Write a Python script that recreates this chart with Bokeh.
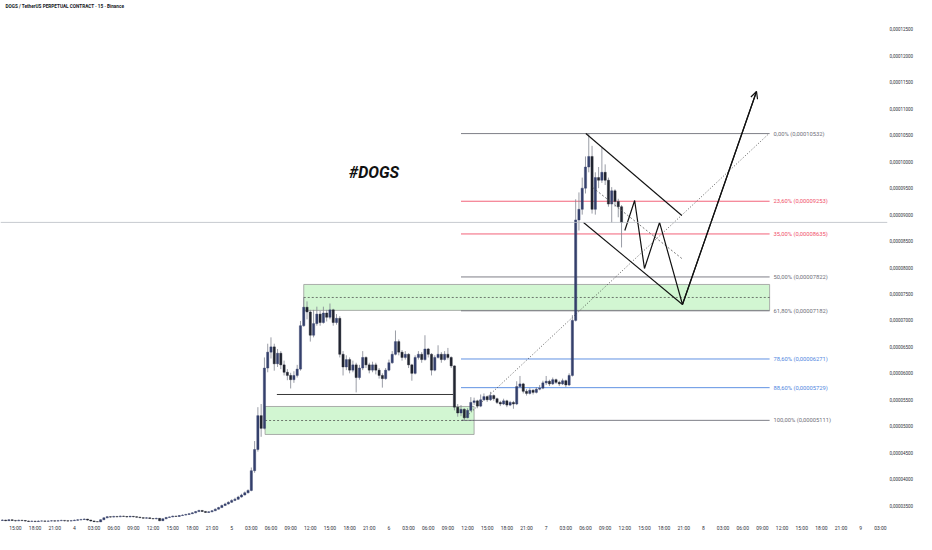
from bokeh.plotting import figure
from bokeh.models import Range1d, FixedTicker, Span, Label, Arrow, OpenHead, ColumnDataSource
from bokeh.embed import file_html
from bokeh.resources import INLINE
from bokeh.core.properties import value

# ---------------- data (prices in units of 1e-8 USDT, time in hours from day 4 00:00) -------------
candle_start = -11.0
candle_step = 0.5
first_open = 3220
close_ = [3225, 3215, 3230, 3220, 3212, 3222, 3218, 3208, 3200, 3205, 3198, 3206, 3210, 3203, 3208, 3212,
          3206, 3214, 3220, 3212, 3208, 3215, 3222, 3230, 3236, 3244, 3226, 3210, 3196, 3188, 3232, 3268,
          3290, 3282, 3295, 3288, 3300, 3294, 3286, 3296, 3290, 3280, 3272, 3262, 3268, 3256, 3250, 3258,
          3214, 3250, 3276, 3286, 3300, 3294, 3312, 3320, 3332, 3346, 3362, 3386, 3408, 3390, 3370, 3382,
          3402, 3432, 3462, 3500, 3530, 3562, 3598, 3620, 3662, 3700, 3742, 3786,
          4160, 4560, 5200, 4960, 6100, 6400, 6500, 6180, 6380, 6160, 6020, 5960, 5880, 5960, 6080, 6900,
          7250, 7160, 6720, 6940, 7120, 6960, 7140, 7060, 7200, 6960, 7040, 6360, 6120, 6260, 6060, 6160,
          5920, 6100, 6300, 6160, 6060, 6160, 6060, 5960, 5900, 6060, 6200, 6360, 6600, 6400, 6300, 6360,
          6160, 6000, 6300, 6360, 6260, 6460, 6360, 6060, 6300, 6360, 6260, 6360, 6300, 6140, 5360, 5250,
          5320, 5160, 5300, 5450, 5480, 5380, 5500, 5560, 5500, 5580, 5520, 5450, 5420, 5480, 5400, 5450,
          5420, 5750, 5800, 5660, 5620, 5680, 5640, 5700, 5720, 5820, 5850, 5800, 5880, 5830, 5800, 5860,
          5780, 5960, 7000, 8900, 9100, 9500, 9900, 10100, 9100, 9700, 9650, 9800, 9650, 9200, 9450, 9250,
          9150, 8853]
high_ = [3240, 3232, 3245, 3238, 3226, 3235, 3230, 3224, 3215, 3218, 3212, 3220, 3222, 3216, 3220, 3226,
         3218, 3228, 3232, 3226, 3220, 3228, 3236, 3244, 3250, 3258, 3248, 3230, 3214, 3202, 3240, 3276,
         3300, 3298, 3306, 3302, 3312, 3308, 3300, 3308, 3304, 3296, 3288, 3278, 3280, 3272, 3264, 3270,
         3262, 3258, 3284, 3296, 3310, 3308, 3322, 3334, 3344, 3360, 3376, 3398, 3420, 3414, 3396, 3394,
         3416, 3446, 3476, 3518, 3552, 3580, 3618, 3648, 3684, 3724, 3766, 3806,
         4220, 4720, 5360, 5420, 6300, 6560, 6680, 6560, 6460, 6420, 6240, 6080, 6010, 6040, 6160, 6990,
         7434, 7360, 7200, 7200, 7260, 7180, 7260, 7200, 7320, 7220, 7120, 7080, 6420, 6340, 6300, 6240,
         6200, 6160, 6420, 6320, 6200, 6220, 6200, 6100, 6000, 6100, 6260, 6420, 6810, 6640, 6440, 6420,
         6380, 6180, 6340, 6420, 6400, 6720, 6480, 6380, 6340, 6530, 6400, 6420, 6480, 6320, 6150, 5420,
         5400, 5340, 5340, 5550, 5540, 5500, 5600, 5620, 5580, 5650, 5600, 5540, 5480, 5520, 5500, 5480,
         5480, 5850, 5950, 5820, 5700, 5720, 5700, 5740, 5780, 5860, 5950, 5880, 5920, 5900, 5860, 5900,
         5880, 6000, 7100, 9290, 9420, 9700, 10100, 10532, 10300, 9800, 9900, 10270, 9950, 9700, 9520, 9480,
         9300, 9180]
low_ = [3210, 3205, 3212, 3208, 3198, 3206, 3204, 3196, 3190, 3192, 3186, 3194, 3198, 3192, 3196, 3200,
        3195, 3202, 3206, 3200, 3196, 3202, 3208, 3214, 3220, 3228, 3214, 3198, 3186, 3184, 3186, 3228,
        3262, 3270, 3276, 3276, 3282, 3284, 3274, 3280, 3278, 3270, 3262, 3252, 3254, 3246, 3240, 3240,
        3205, 3210, 3244, 3270, 3280, 3284, 3288, 3306, 3314, 3326, 3340, 3356, 3380, 3378, 3360, 3362,
        3376, 3396, 3426, 3456, 3494, 3520, 3550, 3584, 3608, 3650, 3690, 3730,
        3770, 4120, 4520, 4800, 4940, 6020, 6280, 6050, 6120, 6080, 5960, 5870, 5714, 5820, 5920, 6050,
        6880, 7020, 6600, 6680, 6900, 6900, 6940, 6980, 7020, 6900, 6920, 6300, 5960, 6060, 6000, 6020,
        5640, 5880, 6060, 6100, 6000, 6020, 5980, 5900, 5730, 5880, 6040, 6180, 6340, 6340, 6240, 6260,
        6100, 5860, 5980, 6260, 6200, 6240, 6300, 5960, 6040, 6280, 6200, 6240, 6260, 6100, 5300, 5180,
        5190, 5111, 5150, 5280, 5400, 5340, 5360, 5480, 5460, 5480, 5480, 5420, 5380, 5400, 5360, 5380,
        5330, 5400, 5720, 5620, 5580, 5600, 5600, 5620, 5680, 5700, 5780, 5760, 5780, 5800, 5760, 5780,
        5740, 5760, 5940, 6980, 8700, 9000, 9400, 9800, 9020, 9000, 9500, 9600, 9560, 9150, 8850, 9150,
        8950, 8380]

last_price = 8853
last_price_text = "0,00008853\n02:56"

y_ticks = [3000, 3500, 4000, 4500, 5000, 5500, 6000, 6500, 7000, 7500, 8000, 8500, 9000, 9500,
           10000, 10500, 11000, 11500, 12000, 12500]
y_tick_labels = ["0,00003000", "0,00003500", "0,00004000", "0,00004500", "0,00005000", "0,00005500",
                 "0,00006000", "0,00006500", "0,00007000", "0,00007500", "0,00008000", "0,00008500",
                 "0,00009000", "0,00009500", "0,00010000", "0,00010500", "0,00011000", "0,00011500",
                 "0,00012000", "0,00012500"]
x_ticks = [-9, -6, -3, 0, 3, 6, 9, 12, 15, 18, 21, 24, 27, 30, 33, 36, 39, 42, 45, 48, 51, 54, 57, 60,
           63, 66, 69, 72, 75, 78, 81, 84, 87, 90, 93, 96, 99, 102, 105, 108, 111, 114, 117, 120, 123]
x_tick_labels = ["15:00", "18:00", "21:00", "4", "03:00", "06:00", "09:00", "12:00", "15:00", "18:00",
                 "21:00", "5", "03:00", "06:00", "09:00", "12:00", "15:00", "18:00", "21:00", "6",
                 "03:00", "06:00", "09:00", "12:00", "15:00", "18:00", "21:00", "7", "03:00", "06:00",
                 "09:00", "12:00", "15:00", "18:00", "21:00", "8", "03:00", "06:00", "09:00", "12:00",
                 "15:00", "18:00", "21:00", "9", "03:00"]

# Fibonacci retracement
fib_start, fib_end = 59.0, 106.1
fib_prices = [10532, 9253, 8635, 7822, 7182, 6271, 5729, 5111]
fib_labels = ["0,00% (0,00010532)", "23,60% (0,00009253)", "35,00% (0,00008635)", "50,00% (0,00007822)",
              "61,80% (0,00007182)", "78,60% (0,00006271)", "88,60% (0,00005729)", "100,00% (0,00005111)"]
fib_colors = ["#6f7079", "#f0506a", "#f0506a", "#6f7079", "#6f7079", "#4f86e0", "#4f86e0", "#6f7079"]
fib_trend_t = [59.2, 106.0]
fib_trend_p = [5111, 10532]

# demand / supply zones: left, right, bottom, top, mid
zone_left = [29.1, 35.0]
zone_right = [61.0, 106.1]
zone_bottom = [4844, 7190]
zone_top = [5373, 7680]
zone_mid = [5108, 7434]

# support line under range
support_t = [30.9, 57.8]
support_p = [5600, 5600]

# descending channel
chan_up_t = [78.05, 92.7]
chan_up_p = [10534, 8984]
chan_lo_t = [77.7, 92.8]
chan_lo_p = [8852, 7301]
chan_mid_t = [79.1, 92.7]
chan_mid_p = [9513, 8171]

# projected path
path_t = [84.0, 85.5, 87.0, 89.3, 92.8, 104.1]
path_p = [8700, 9267, 7982, 8852, 7301, 11328]

# ---------------- figure ----------------
p = figure(width=916, height=534, output_backend="svg", toolbar_location=None,
           x_range=Range1d(-11.28, 124.09), y_range=Range1d(3180, 13048),
           y_axis_location="right", min_border_left=0, min_border_top=0,
           min_border_right=28, min_border_bottom=12, background_fill_color="white",
           border_fill_color="white")
p.outline_line_color = None
p.grid.visible = False

p.yaxis.ticker = FixedTicker(ticks=y_ticks)
p.yaxis.major_label_overrides = dict(zip(y_ticks, y_tick_labels))
p.xaxis.ticker = FixedTicker(ticks=x_ticks)
p.xaxis.major_label_overrides = dict(zip(x_ticks, x_tick_labels))
for ax in (p.xaxis, p.yaxis):
    ax.axis_line_color = None
    ax.major_tick_line_color = None
    ax.minor_tick_line_color = None
    ax.major_tick_out = 0
    ax.major_tick_in = 0
    ax.major_label_text_color = "#2f323b"
    ax.major_label_text_font = "Roboto"
p.yaxis.major_label_text_font_size = "4.5px"
p.xaxis.major_label_text_font_size = "5px"
p.yaxis.major_label_standoff = 2
p.xaxis.major_label_standoff = 2

# current price line
p.add_layout(Span(location=last_price, dimension="width", line_color="#b9bcc4", line_width=0.8))

# zones
zsrc = ColumnDataSource(dict(left=zone_left, right=zone_right, bottom=zone_bottom, top=zone_top, mid=zone_mid))
p.quad(left="left", right="right", bottom="bottom", top="top", source=zsrc,
       fill_color="#cdf5cd", fill_alpha=0.9, line_color="#9a9a9a", line_width=0.8)
p.segment(x0="left", x1="right", y0="mid", y1="mid", source=zsrc,
          line_color="#444444", line_width=0.7, line_dash="2 2")

# support line
p.line(support_t, support_p, line_color="#222222", line_width=0.9)

# fib levels
fsrc = ColumnDataSource(dict(x0=[fib_start] * len(fib_prices), x1=[fib_end] * len(fib_prices),
                             y=fib_prices, c=fib_colors, lab=fib_labels,
                             lx=[fib_end + 0.6] * len(fib_prices)))
p.segment(x0="x0", x1="x1", y0="y", y1="y", source=fsrc, line_color="c", line_width=0.9)
p.text(x="lx", y="y", text="lab", source=fsrc, text_color="c", text_font_size="5.8px",
       text_baseline="middle", text_align="left", text_font=value("Roboto"))
p.line(fib_trend_t, fib_trend_p, line_color="#333333", line_width=0.8, line_dash="1 2")

# candles
n = len(close_)
times = [candle_start + candle_step * i for i in range(n)]
open_ = [first_open] + close_[:-1]
up = [c >= o for o, c in zip(open_, close_)]
csrc = ColumnDataSource(dict(t=times, o=open_, c=close_, h=high_, l=low_,
                             top=[max(o, c) for o, c in zip(open_, close_)],
                             bot=[min(o, c) for o, c in zip(open_, close_)],
                             col=["#34406c" if u else "#20242f" for u in up]))
p.segment(x0="t", x1="t", y0="l", y1="h", source=csrc, line_color="#80848f", line_width=0.8)
p.vbar(x="t", width=0.34, top="top", bottom="bot", source=csrc, fill_color="col", line_color="col",
       line_width=0.4)

# channel
p.line(chan_up_t, chan_up_p, line_color="#111111", line_width=1.1)
p.line(chan_lo_t, chan_lo_p, line_color="#111111", line_width=1.1)
p.line(chan_mid_t, chan_mid_p, line_color="#555555", line_width=0.8, line_dash="2 2")

# projection path with arrow
p.line(path_t, path_p, line_color="#111111", line_width=1.2)
p.add_layout(Arrow(end=OpenHead(size=7, line_color="#111111", line_width=1.2),
                   x_start=path_t[-2], y_start=path_p[-2], x_end=path_t[-1], y_end=path_p[-1],
                   line_color="#111111", line_width=1.2))

# big text
p.text(x=[41.9], y=[9797], text=["#DOGS"], text_font=value("Roboto"), text_font_style="bold italic",
       text_font_size="16px", text_color="#111111", text_baseline="middle", text_align="left")

# title, unit, price label
p.add_layout(Label(x=5, y=516, x_units="screen", y_units="screen",
                   text="DOGS / TetherUS PERPETUAL CONTRACT · 15 · Binance", text_font="Roboto",
                   text_font_size="4.7px", text_font_style="bold", text_color="#131722",
                   text_baseline="middle"))
p.add_layout(Label(x=897, y=515, x_units="screen", y_units="screen", text="USDT", text_font="Roboto",
                   text_font_size="4.5px", text_color="#2f323b", text_baseline="middle"))
p.add_layout(Label(x=889, y=297, x_units="screen", y_units="screen", text=last_price_text,
                   text_font="Roboto", text_font_size="4.5px", text_color="white",
                   text_baseline="middle", background_fill_color="#131722", padding=1,
                   text_line_height=1.1))

open("out.html", "w").write(file_html(p, INLINE))
